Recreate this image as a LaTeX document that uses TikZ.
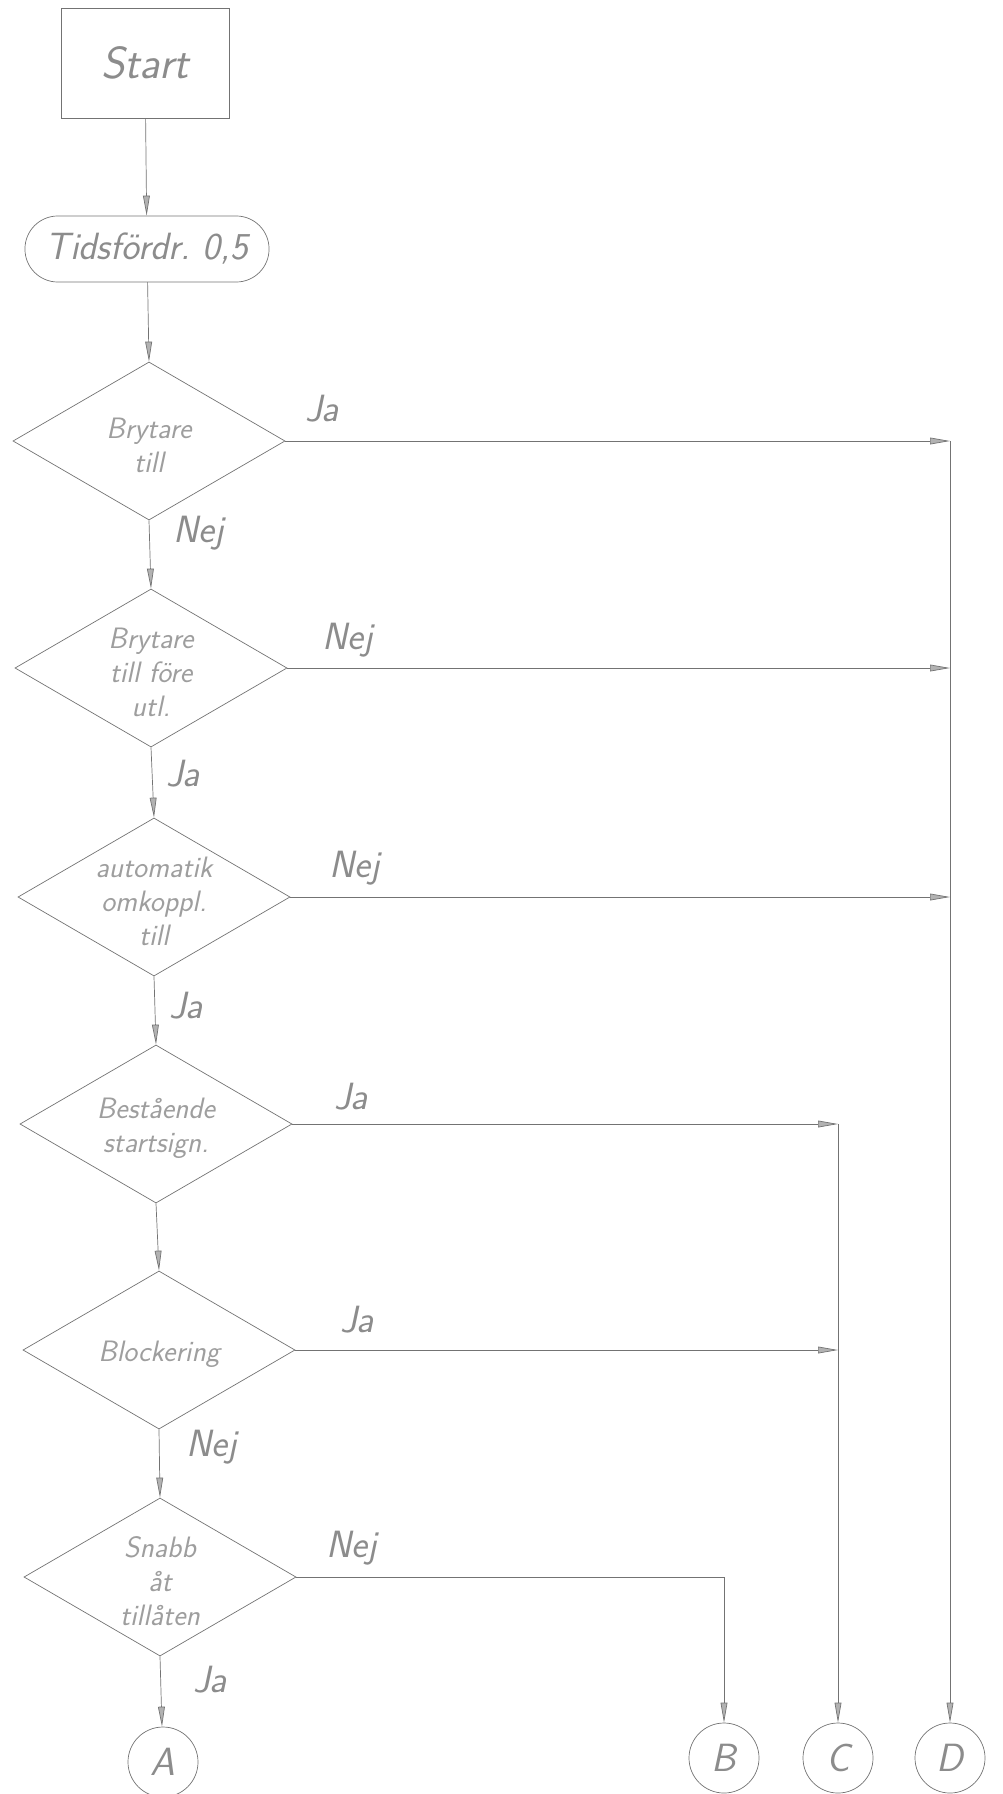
\documentclass[tikz,border=0pt]{standalone}
\usetikzlibrary{arrows.meta,shapes.geometric}

\begin{document}
\begin{tikzpicture}[
  x=0.025cm, y=-0.025cm,
  >={Triangle[length=5mm,width=1.7mm,fill=black!30]},
  every node/.style={text=black!45},
  pencil/.style={draw=black!55,line width=.5pt},
  hand/.style={font=\fontsize{21}{24}\selectfont\sffamily\slshape},
  ans/.style={font=\fontsize{27}{30}\selectfont\sffamily\slshape},
  box/.style={pencil,minimum width=4.2cm,minimum height=2.75cm},
  term/.style={pencil,rounded corners=.82cm,minimum width=6.1cm,minimum height=1.65cm},
  decision/.style={pencil,diamond,aspect=1.72,inner sep=0pt,
    minimum width=6.8cm,minimum height=3.95cm,
    label={[hand,align=center,text=black!38,yshift=-3pt]center:#1}},
  conn/.style={pencil,circle,minimum size=1.75cm,
    font=\fontsize{28}{30}\selectfont\sffamily\slshape}
]
\useasboundingbox (0,0) rectangle (1003,1794);
\node[box,font=\fontsize{32}{34}\selectfont\sffamily\slshape] (start) at (145,63) {Start};
\node[term,font=\fontsize{27}{30}\selectfont\sffamily\slshape] (delay) at (147,249) {Tidsfördr.\ 0,5};
\node[decision={Brytare\\till}] (d1) at (149,441) {};
\node[decision={Brytare\\till före\\utl.}] (d2) at (151,668) {};
\node[decision={automatik\\omkoppl.\\till}] (d3) at (154,897) {};
\node[decision={Bestående\\startsign.}] (d4) at (156,1124) {};
\node[decision={Blockering}] (d5) at (159,1350) {};
\node[decision={Snabb\\åt\\tillåten}] (d6) at (160,1577) {};
\node[conn] (A) at (163,1762) {A};
\node[conn] (B) at (724,1758) {B};
\node[conn] (C) at (838,1758) {C};
\node[conn] (D) at (950,1758) {D};
\draw[pencil,->] (start) -- (delay);
\draw[pencil,->] (delay) -- (d1.north);
\draw[pencil,->] (d1.south) -- (d2.north);
\draw[pencil,->] (d2.south) -- (d3.north);
\draw[pencil,->] (d3.south) -- (d4.north);
\draw[pencil,->] (d4.south) -- (d5.north);
\draw[pencil,->] (d5.south) -- (d6.north);
\draw[pencil,->] (d6.south) -- (A);
\foreach \d/\c in {d1/D,d2/D,d3/D,d4/C,d5/C}
  \draw[pencil,->] (\d.east) -- (\d.east -| \c);
\draw[pencil,->] (d1.east -| D) -- (D);
\draw[pencil,->] (d4.east -| C) -- (C);
\draw[pencil,->] (d6.east) -| (B);
\foreach \t/\x/\y [count=\i] in {Ja/322/409,Nej/199/533,Nej/348/640,Ja/183/774,
    Nej/355/868,Ja/186/1006,Ja/351/1097,Ja/357/1320,Nej/212/1447,Nej/352/1548,Ja/210/1680}
  \node[ans] (lab\i) at (\x,\y) {\t};
\end{tikzpicture}
\end{document}
